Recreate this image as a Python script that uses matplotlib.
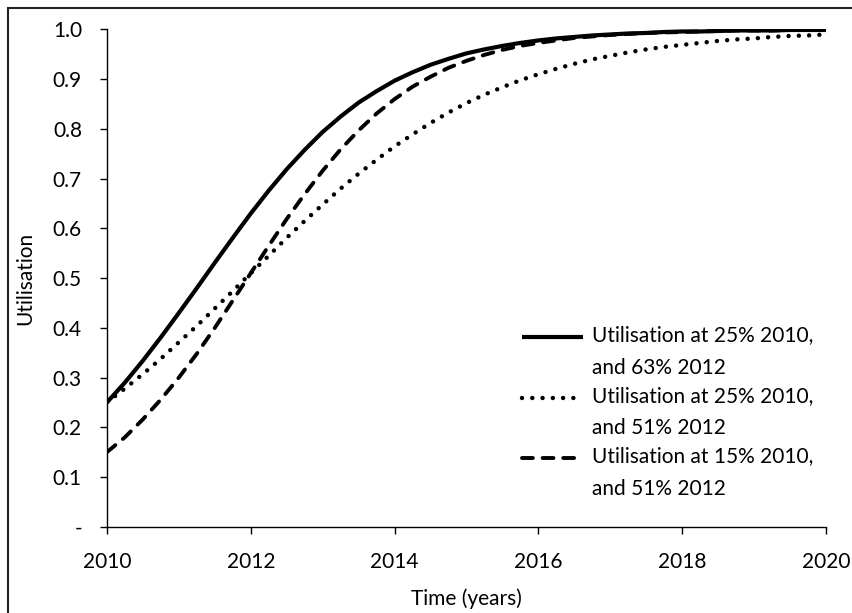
import matplotlib
matplotlib.use("Agg")
import matplotlib.pyplot as plt
from matplotlib.legend_handler import HandlerLine2D
from matplotlib.patches import Rectangle
from matplotlib.ticker import FuncFormatter

plt.rcParams['font.family'] = ['Lato', 'DejaVu Sans']

# values, quarter-year steps from 2010 to 2020
years = [2010 + i / 4 for i in range(41)]
util_25_63 = [0.250, 0.290, 0.334, 0.381, 0.430, 0.480, 0.531, 0.581, 0.630, 0.676,
              0.719, 0.758, 0.794, 0.825, 0.853, 0.876, 0.897, 0.914, 0.929, 0.941,
              0.952, 0.960, 0.967, 0.973, 0.978, 0.982, 0.985, 0.988, 0.990, 0.992,
              0.993, 0.995, 0.996, 0.996, 0.997, 0.998, 0.998, 0.998, 0.999, 0.999, 0.999]
util_25_51 = [0.250, 0.278, 0.307, 0.338, 0.371, 0.404, 0.439, 0.474, 0.510, 0.545,
              0.581, 0.615, 0.648, 0.680, 0.710, 0.738, 0.765, 0.789, 0.812, 0.833,
              0.852, 0.869, 0.884, 0.898, 0.910, 0.921, 0.931, 0.940, 0.947, 0.954,
              0.960, 0.965, 0.969, 0.973, 0.977, 0.980, 0.982, 0.985, 0.987, 0.988, 0.990]
util_15_51 = [0.150, 0.180, 0.216, 0.256, 0.300, 0.348, 0.400, 0.455, 0.510, 0.565,
              0.619, 0.669, 0.716, 0.759, 0.797, 0.831, 0.860, 0.885, 0.905, 0.923,
              0.937, 0.949, 0.959, 0.967, 0.973, 0.978, 0.983, 0.986, 0.989, 0.991,
              0.993, 0.994, 0.995, 0.996, 0.997, 0.998, 0.998, 0.998, 0.999, 0.999, 0.999]
labels = ["Utilisation at 25% 2010,\nand 63% 2012",
          "Utilisation at 25% 2010,\nand 51% 2012",
          "Utilisation at 15% 2010,\nand 51% 2012"]


class TopLineHandler(HandlerLine2D):
    # put the legend sample next to the first line of a two-line label
    def create_artists(self, legend, orig_handle, xdescent, ydescent, width, height, fontsize, trans):
        arts = super().create_artists(legend, orig_handle, xdescent, ydescent, width, height, fontsize, trans)
        for a in arts:
            a.set_ydata([y + 10.8 for y in a.get_ydata()])
        return arts


fig = plt.figure(figsize=(8.53, 6.13), dpi=100)
ax = fig.add_axes([0.1254, 0.1408, 0.8430, 0.8111])

l1, = ax.plot(years, util_25_63, color='black', lw=3.0, solid_capstyle='butt')
l2, = ax.plot(years, util_25_51, color='black', lw=3.2, dashes=(0.01, 2.3), dash_capstyle='round')
l3, = ax.plot(years, util_15_51, color='black', lw=2.8, dashes=(2.8, 2.5), dash_capstyle='round')

ax.set_xlim(2010, 2020)
ax.set_ylim(0, 1.0)
ax.set_xticks([2010, 2012, 2014, 2016, 2018, 2020])
ax.set_yticks([i / 10 for i in range(11)])
ax.yaxis.set_major_formatter(FuncFormatter(lambda v, p: '-' if abs(v) < 1e-9 else f'{v:.1f}'))

for s in ['top', 'right']:
    ax.spines[s].set_visible(False)
for s in ['left', 'bottom']:
    ax.spines[s].set_linewidth(1.0)
ax.tick_params(axis='both', direction='out', length=5, width=1.0, labelsize=15, colors='black')
ax.tick_params(axis='y', pad=13)
ax.tick_params(axis='x', pad=13)

ax.set_ylabel('Utilisation', fontsize=15)
ax.yaxis.set_label_coords(-0.100, 0.5)
ax.set_xlabel('Time (years)', fontsize=15)
ax.xaxis.set_label_coords(0.5, -0.125)

leg = ax.legend([l1, l2, l3], labels, loc='upper left', bbox_to_anchor=(0.577, 0.405),
                frameon=False, fontsize=15, handlelength=2.95, handletextpad=0.4,
                borderpad=0, borderaxespad=0, labelspacing=0.36,
                handler_map={matplotlib.lines.Line2D: TopLineHandler()})
for t in leg.get_texts():
    t.set_linespacing(1.8)

# chart border (right and bottom edges are cut off in the original)
fig.add_artist(Rectangle((8 / 853, -0.1), 1.2, 1.1 - 8 / 613, transform=fig.transFigure,
                         fill=False, edgecolor='#222222', lw=1.5))

fig.savefig('out.png', dpi=100)
